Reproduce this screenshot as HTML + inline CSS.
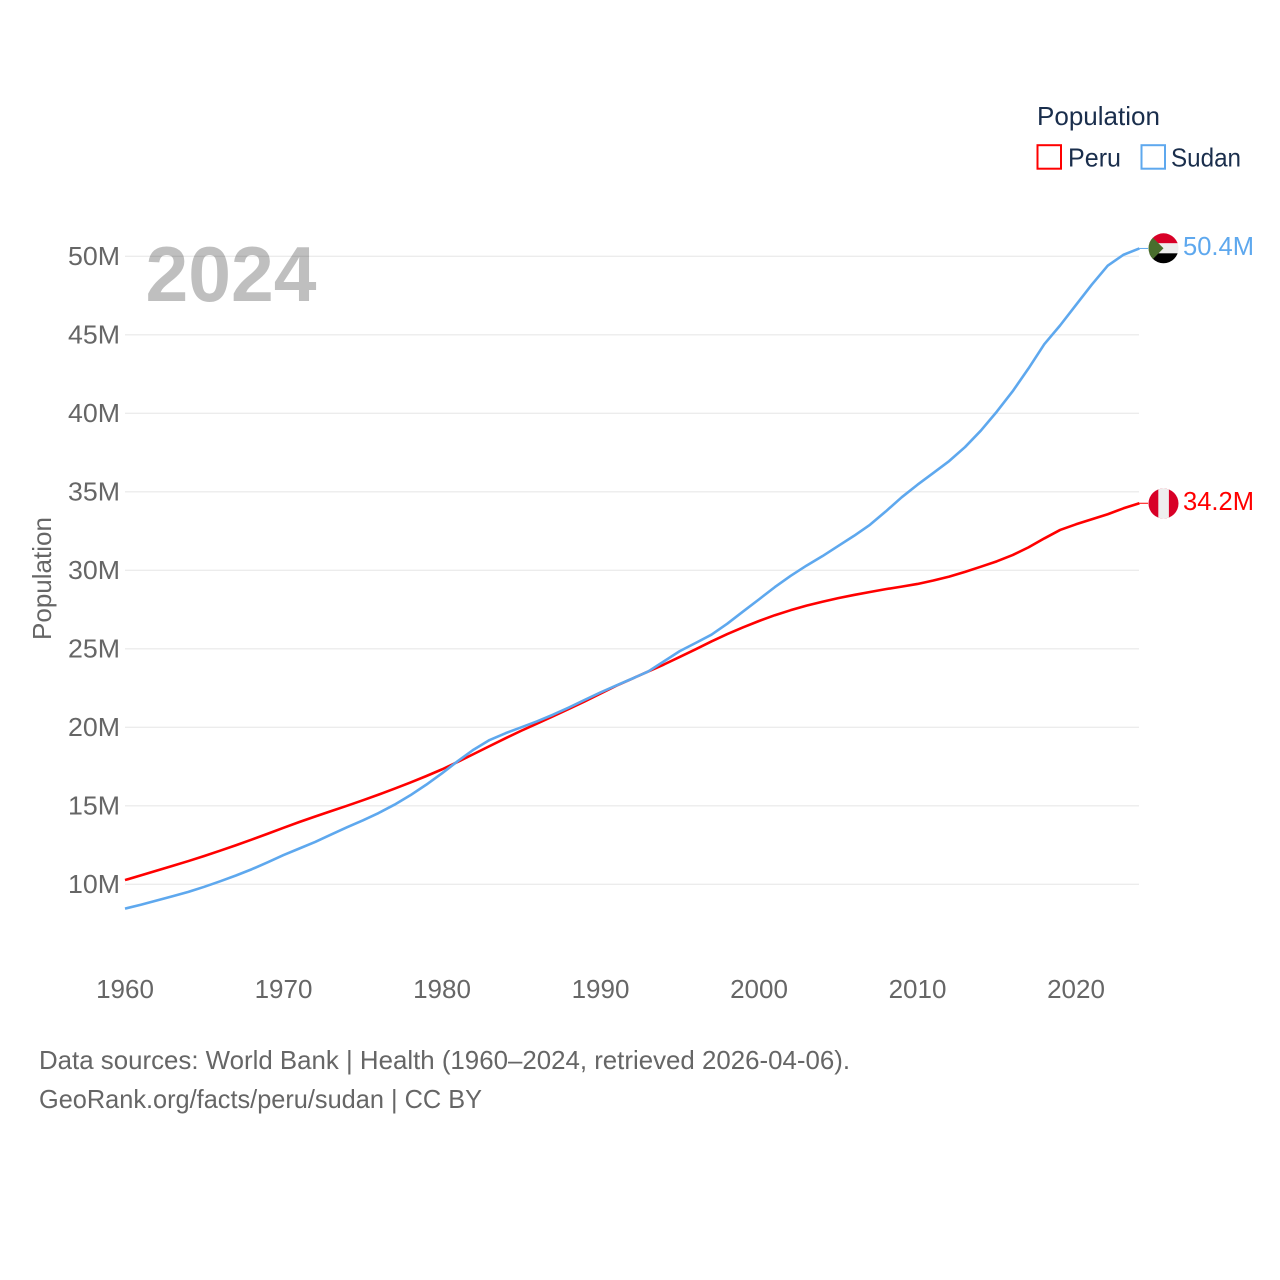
<!DOCTYPE html>
<html lang="en">
<head>
<meta charset="utf-8">
<title>Population: Peru and Sudan</title>
<style>
html,body{margin:0;padding:0;background:#fff;}
svg{display:block;font-family:"Liberation Sans",sans-serif;}
</style>
</head>
<body>
<svg id="chart" width="1280" height="1280" viewBox="0 0 1280 1280" xmlns="http://www.w3.org/2000/svg">
  <defs>
    <clipPath id="flag-clip-sudan"><circle cx="1163.5" cy="248.3" r="15"/></clipPath>
    <clipPath id="flag-clip-peru"><circle cx="1163.5" cy="503.5" r="15"/></clipPath>
  </defs>
  <g id="grid"></g>
  <g id="y-ticks"></g>
  <g id="x-ticks"></g>
  <text x="145.5" y="301" font-size="78" font-weight="700" fill="#000" fill-opacity="0.25" textLength="171" lengthAdjust="spacingAndGlyphs">2024</text>
  <text transform="translate(51,640) rotate(-90)" font-size="26" fill="#666" textLength="123" lengthAdjust="spacingAndGlyphs">Population</text>
  <g id="series"></g>
  <g clip-path="url(#flag-clip-sudan)">
    <rect x="1148" y="233" width="31" height="10.3" fill="#d80027"/>
    <rect x="1148" y="243.3" width="31" height="10" fill="#eeeeee"/>
    <rect x="1148" y="253.3" width="31" height="11" fill="#000"/>
    <polygon points="1148,233 1163.5,248.3 1148,264" fill="#496e2d"/>
  </g>
  <g clip-path="url(#flag-clip-peru)">
    <rect x="1148" y="488" width="31" height="31" fill="#d80027"/>
    <rect x="1158.3" y="488" width="10.6" height="31" fill="#eeeeee"/>
  </g>
  <text id="label-sudan" x="1183" y="255" font-size="26" fill="#5ea8ee" textLength="71" lengthAdjust="spacingAndGlyphs"></text>
  <text id="label-peru" x="1183" y="510" font-size="26" fill="#ff0000" textLength="71" lengthAdjust="spacingAndGlyphs"></text>
  <g>
    <text x="1037" y="125" font-size="26" fill="#1a2e4c" textLength="123" lengthAdjust="spacingAndGlyphs">Population</text>
    <g>
      <rect x="1037.5" y="145.2" width="23.5" height="23.5" fill="none" stroke="#ff0000" stroke-width="2"/>
      <text x="1068" y="166.5" font-size="26" fill="#1a2e4c" textLength="53" lengthAdjust="spacingAndGlyphs">Peru</text>
    </g>
    <g>
      <rect x="1141.5" y="145.2" width="23.5" height="23.5" fill="none" stroke="#5ea8ee" stroke-width="2"/>
      <text x="1171" y="166.5" font-size="26" fill="#1a2e4c" textLength="70" lengthAdjust="spacingAndGlyphs">Sudan</text>
    </g>
  </g>
  <text x="39" y="1069" font-size="26" fill="#666" textLength="811" lengthAdjust="spacingAndGlyphs">Data sources: World Bank | Health (1960–2024, retrieved 2026-04-06).</text>
  <text x="39" y="1108" font-size="26" fill="#666" textLength="443" lengthAdjust="spacingAndGlyphs">GeoRank.org/facts/peru/sudan | CC BY</text>
</svg>
<script>
const firstYear = 1960;
const xTickYears = [1960, 1970, 1980, 1990, 2000, 2010, 2020];
const yTickValues = [10, 15, 20, 25, 30, 35, 40, 45, 50];
const peruValues = [
  10.27, 10.57, 10.87, 11.17, 11.48, 11.8, 12.14, 12.49, 12.85, 13.22,
  13.6, 13.97, 14.32, 14.66, 15.0, 15.35, 15.71, 16.09, 16.48, 16.89,
  17.32, 17.8, 18.3, 18.8, 19.3, 19.78, 20.24, 20.7, 21.17, 21.65,
  22.15, 22.65, 23.1, 23.55, 24.0, 24.48, 24.97, 25.47, 25.94, 26.37,
  26.77, 27.14, 27.46, 27.75, 28.0, 28.23, 28.43, 28.62, 28.8, 28.96,
  29.13, 29.35, 29.6, 29.9, 30.23, 30.57, 30.97, 31.46, 32.03, 32.57,
  32.93, 33.25, 33.57, 33.95, 34.27
];
const sudanValues = [
  8.45, 8.7, 8.97, 9.24, 9.52, 9.84, 10.19, 10.56, 10.96, 11.4,
  11.86, 12.28, 12.7, 13.17, 13.63, 14.07, 14.54, 15.07, 15.67, 16.34,
  17.07, 17.85, 18.58, 19.19, 19.62, 20.0, 20.38, 20.8, 21.26, 21.74,
  22.22, 22.67, 23.1, 23.55, 24.2, 24.85, 25.37, 25.9, 26.6, 27.38,
  28.15, 28.93, 29.65, 30.3, 30.9, 31.55, 32.2, 32.9, 33.75, 34.65,
  35.45, 36.2, 36.96, 37.85, 38.9, 40.1, 41.4, 42.85, 44.4, 45.6,
  46.9, 48.2, 49.4, 50.1, 50.5
];
const peruLabelValue = 34.2;
const sudanLabelValue = 50.4;

const SVG_NS = 'http://www.w3.org/2000/svg';
function xScale(year) { return 125 + (year - 1960) * 15.85; }
function yScale(value) { return 884.3 - (value - 10) * 15.7; }
function linePath(values) {
  return values.map(function (v, i) {
    return (i ? 'L' : 'M') + xScale(firstYear + i).toFixed(2) + ' ' + yScale(v).toFixed(2);
  }).join('');
}

const grid = document.getElementById('grid');
const yTicks = document.getElementById('y-ticks');
yTickValues.forEach(function (v) {
  const line = document.createElementNS(SVG_NS, 'line');
  
  
  line.setAttribute('x1', 125);
  line.setAttribute('x2', 1139);
  line.setAttribute('y1', yScale(v));
  line.setAttribute('y2', yScale(v));
  line.setAttribute('stroke', '#ececec');
  line.setAttribute('stroke-width', 1.3);
  grid.appendChild(line);

  const t = document.createElementNS(SVG_NS, 'text');
  
  
  t.setAttribute('x', 68);
  t.setAttribute('y', yScale(v) + 8.7);
  t.setAttribute('font-size', 26);
  t.setAttribute('fill', '#666');
  t.setAttribute('textLength', 52);
  t.setAttribute('lengthAdjust', 'spacingAndGlyphs');
  t.textContent = v + 'M';
  yTicks.appendChild(t);
});

const xTicks = document.getElementById('x-ticks');
xTickYears.forEach(function (y) {
  const t = document.createElementNS(SVG_NS, 'text');
  
  
  t.setAttribute('x', xScale(y));
  t.setAttribute('y', 998);
  t.setAttribute('font-size', 26);
  t.setAttribute('fill', '#666');
  t.setAttribute('text-anchor', 'middle');
  t.textContent = y;
  xTicks.appendChild(t);
});

const seriesGroup = document.getElementById('series');
function drawSeries(values, color, name) {
  const p = document.createElementNS(SVG_NS, 'path');
  
  
  p.setAttribute('d', linePath(values));
  p.setAttribute('fill', 'none');
  p.setAttribute('stroke', color);
  p.setAttribute('stroke-width', 2.6);
  p.setAttribute('stroke-linejoin', 'round');
  seriesGroup.appendChild(p);

  const last = values[values.length - 1];
  const c = document.createElementNS(SVG_NS, 'line');
  
  
  c.setAttribute('x1', xScale(firstYear + values.length - 1));
  c.setAttribute('x2', 1148);
  c.setAttribute('y1', yScale(last));
  c.setAttribute('y2', yScale(last));
  c.setAttribute('stroke', color);
  c.setAttribute('stroke-width', 1);
  seriesGroup.appendChild(c);
}
drawSeries(peruValues, '#ff0000', 'peru-line');
drawSeries(sudanValues, '#5ea8ee', 'sudan-line');

document.getElementById('label-peru').textContent = peruLabelValue.toFixed(1) + 'M';
document.getElementById('label-sudan').textContent = sudanLabelValue.toFixed(1) + 'M';
</script>
</body>
</html>
